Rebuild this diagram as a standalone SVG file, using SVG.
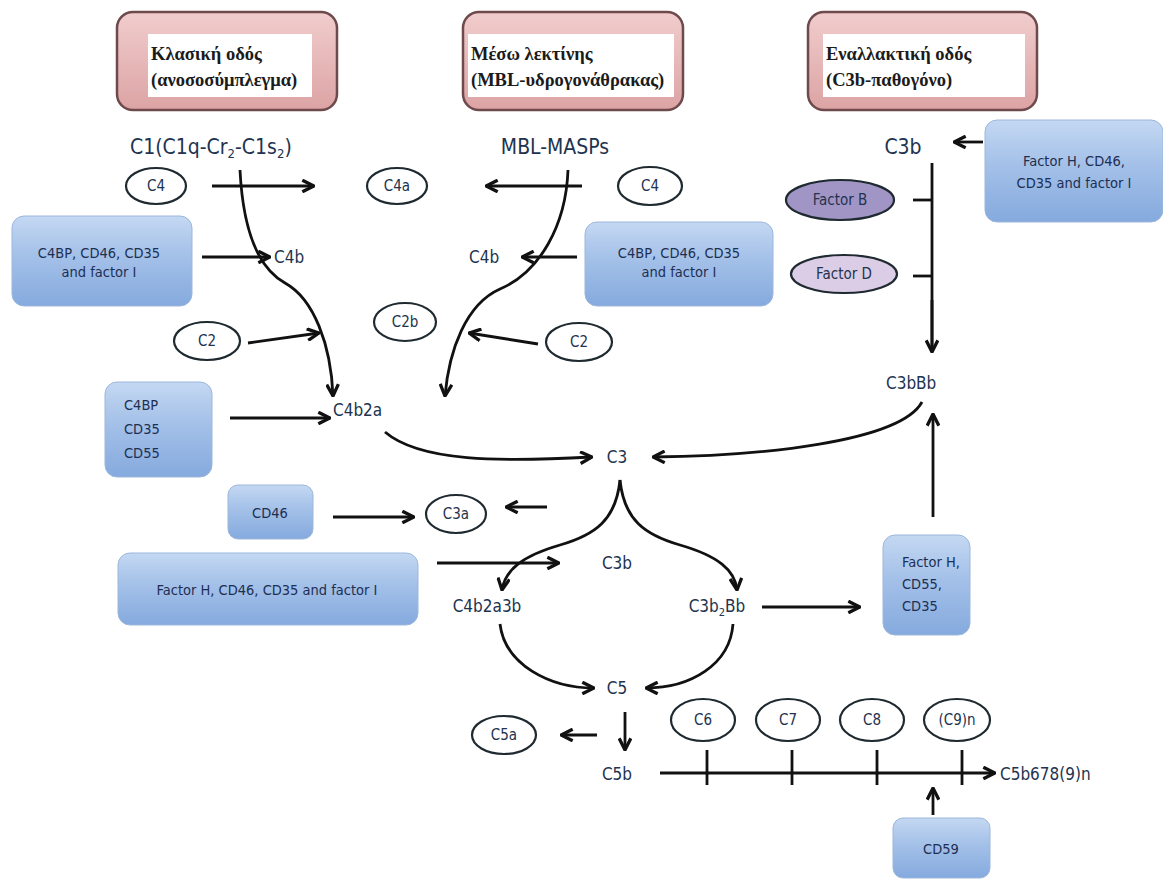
<svg xmlns="http://www.w3.org/2000/svg" width="1163" height="882" viewBox="0 0 1163 882">
<defs>
<linearGradient id="gBlue" x1="0" y1="0" x2="0" y2="1">
<stop offset="0" stop-color="#c4d8f2"/>
<stop offset="0.45" stop-color="#a3c0e8"/>
<stop offset="1" stop-color="#85aade"/>
</linearGradient>
<linearGradient id="gPink" x1="0" y1="0" x2="0" y2="1">
<stop offset="0" stop-color="#f1cdcd"/>
<stop offset="1" stop-color="#dca3a4"/>
</linearGradient>
<marker id="ah" viewBox="0 0 12 12" refX="11" refY="6" markerWidth="14" markerHeight="14" markerUnits="userSpaceOnUse" orient="auto">
<path d="M1,1 L11,6 L1,11" fill="none" stroke="#111" stroke-width="2.8" stroke-linejoin="miter"/>
</marker>
</defs>
<style>
.hdr{fill:url(#gPink);stroke:#6e4a4c;stroke-width:2.5}
.inner{fill:#ffffff;stroke:none}
.htxt{font-family:"Liberation Serif",serif;font-weight:bold;font-size:18.5px;fill:#1b1b1b}
.blue{fill:url(#gBlue);stroke:#9cb7dc;stroke-width:1}
.btxt{font-family:"DejaVu Sans Condensed","DejaVu Sans",sans-serif;font-size:14.5px;fill:#1d2f52}
.lbl{font-family:"DejaVu Sans Condensed","DejaVu Sans",sans-serif;font-size:17px;fill:#22334f}
.big{font-family:"DejaVu Sans Condensed","DejaVu Sans",sans-serif;font-size:21px;fill:#22334f}
.ell{fill:#ffffff;stroke:#1e2a30;stroke-width:2.2}
.etxt{font-family:"DejaVu Sans Condensed","DejaVu Sans",sans-serif;font-size:15px;fill:#22334f}
.ln{fill:none;stroke:#111;stroke-width:2.8}
.ar{fill:none;stroke:#111;stroke-width:2.8;marker-end:url(#ah)}
</style>
<rect width="1163" height="882" fill="#ffffff"/>

<g id="hdr-classic">
<rect class="hdr" x="117" y="12" width="220" height="98" rx="16"/>
<rect class="inner" x="148" y="34" width="164" height="63"/>
<text class="htxt" x="151" y="60">Κλασική οδός</text>
<text class="htxt" x="151" y="86">(ανοσοσύμπλεγμα)</text>
</g>
<g id="hdr-lectin">
<rect class="hdr" x="463" y="12" width="220" height="98" rx="16"/>
<rect class="inner" x="468" y="34" width="206" height="63"/>
<text class="htxt" x="471" y="60">Μέσω λεκτίνης</text>
<text class="htxt" x="471" y="86">(MBL-υδρογονάθρακας)</text>
</g>
<g id="hdr-alt">
<rect class="hdr" x="808" y="12" width="229" height="98" rx="16"/>
<rect class="inner" x="823" y="34" width="202" height="63"/>
<text class="htxt" x="826" y="60">Εναλλακτική οδός</text>
<text class="htxt" x="826" y="86">(C3b-παθογόνο)</text>
</g>

<g id="lbl-c1"><text class="big" x="130" y="154">C1(C1q-Cr<tspan font-size="13" dy="4">2</tspan><tspan dy="-4">-C1s</tspan><tspan font-size="13" dy="4">2</tspan><tspan dy="-4">)</tspan></text></g>
<g id="lbl-mbl"><text class="big" x="555" y="154" text-anchor="middle">MBL-MASPs</text></g>
<g id="lbl-c3b-top"><text class="big" x="903" y="154" text-anchor="middle">C3b</text></g>

<g id="e-c4-left"><ellipse class="ell" cx="156" cy="186" rx="30" ry="18"/><text class="etxt" x="156" y="191" text-anchor="middle">C4</text></g>
<g id="e-c4a"><ellipse class="ell" cx="397" cy="186" rx="30" ry="18"/><text class="etxt" x="397" y="191" text-anchor="middle">C4a</text></g>
<g id="e-c4-right"><ellipse class="ell" cx="650" cy="186" rx="32" ry="19"/><text class="etxt" x="650" y="191" text-anchor="middle">C4</text></g>
<g id="e-factorB"><ellipse cx="840" cy="200" rx="54" ry="20" fill="#a195c6" stroke="#1e2a30" stroke-width="2.2"/><text class="etxt" x="840" y="205" text-anchor="middle">Factor B</text></g>
<g id="e-factorD"><ellipse cx="844" cy="274" rx="53" ry="19" fill="#dccde6" stroke="#1e2a30" stroke-width="2.2"/><text class="etxt" x="844" y="279" text-anchor="middle">Factor D</text></g>

<g id="box-fh-top"><rect class="blue" x="985" y="120" width="178" height="102" rx="12"/><text class="btxt" x="1074" y="166" text-anchor="middle">Factor H, CD46,</text><text class="btxt" x="1074" y="188" text-anchor="middle">CD35 and factor I</text></g>

<g id="box-c4bp-left"><rect class="blue" x="12" y="216" width="180" height="90" rx="12"/><text class="btxt" x="99" y="258" text-anchor="middle">C4BP, CD46, CD35</text><text class="btxt" x="99" y="277" text-anchor="middle">and factor I</text></g>
<g id="lbl-c4b-left"><text class="lbl" x="274" y="263">C4b</text></g>
<g id="lbl-c4b-right"><text class="lbl" x="469" y="263">C4b</text></g>
<g id="box-c4bp-right"><rect class="blue" x="585" y="222" width="188" height="84" rx="12"/><text class="btxt" x="679" y="258" text-anchor="middle">C4BP, CD46, CD35</text><text class="btxt" x="679" y="277" text-anchor="middle">and factor I</text></g>

<g id="e-c2-left"><ellipse class="ell" cx="207" cy="341" rx="33" ry="19"/><text class="etxt" x="207" y="346" text-anchor="middle">C2</text></g>
<g id="e-c2b"><ellipse class="ell" cx="405" cy="322" rx="31" ry="19"/><text class="etxt" x="405" y="327" text-anchor="middle">C2b</text></g>
<g id="e-c2-right"><ellipse class="ell" cx="579" cy="342" rx="33" ry="19"/><text class="etxt" x="579" y="347" text-anchor="middle">C2</text></g>

<g id="box-c4bp-cd35-cd55"><rect class="blue" x="105" y="382" width="107" height="95" rx="12"/><text class="btxt" x="124" y="410">C4BP</text><text class="btxt" x="124" y="434">CD35</text><text class="btxt" x="124" y="458">CD55</text></g>
<g id="lbl-c4b2a"><text class="lbl" x="333" y="416">C4b2a</text></g>
<g id="lbl-c3bbb"><text class="lbl" x="886" y="389">C3bBb</text></g>
<g id="lbl-c3"><text class="lbl" x="617" y="463" text-anchor="middle">C3</text></g>

<g id="box-cd46"><rect class="blue" x="228" y="485" width="85" height="54" rx="10"/><text class="btxt" x="270" y="518" text-anchor="middle">CD46</text></g>
<g id="e-c3a"><ellipse class="ell" cx="456" cy="514" rx="30" ry="19"/><text class="etxt" x="456" y="519" text-anchor="middle">C3a</text></g>

<g id="box-fh-left"><rect class="blue" x="118" y="553" width="300" height="72" rx="12"/><text class="btxt" x="267" y="595" text-anchor="middle">Factor H, CD46, CD35 and factor I</text></g>
<g id="lbl-c3b-mid"><text class="lbl" x="617" y="569" text-anchor="middle">C3b</text></g>
<g id="lbl-c4b2a3b"><text class="lbl" x="487" y="612" text-anchor="middle">C4b2a3b</text></g>
<g id="lbl-c3b2bb"><text class="lbl" x="717" y="612" text-anchor="middle">C3b<tspan font-size="11" dy="4">2</tspan><tspan dy="-4">Bb</tspan></text></g>
<g id="box-fh-cd55"><rect class="blue" x="883" y="535" width="87" height="100" rx="12"/><text class="btxt" x="902" y="567">Factor H,</text><text class="btxt" x="902" y="589">CD55,</text><text class="btxt" x="902" y="611">CD35</text></g>

<g id="lbl-c5"><text class="lbl" x="617" y="694" text-anchor="middle">C5</text></g>
<g id="e-c5a"><ellipse class="ell" cx="504" cy="735" rx="32" ry="19"/><text class="etxt" x="504" y="740" text-anchor="middle">C5a</text></g>
<g id="lbl-c5b"><text class="lbl" x="617" y="780" text-anchor="middle">C5b</text></g>
<g id="e-c6"><ellipse class="ell" cx="703" cy="720" rx="32" ry="21"/><text class="etxt" x="703" y="725" text-anchor="middle">C6</text></g>
<g id="e-c7"><ellipse class="ell" cx="788" cy="720" rx="32" ry="21"/><text class="etxt" x="788" y="725" text-anchor="middle">C7</text></g>
<g id="e-c8"><ellipse class="ell" cx="872" cy="720" rx="32" ry="21"/><text class="etxt" x="872" y="725" text-anchor="middle">C8</text></g>
<g id="e-c9n"><ellipse class="ell" cx="957" cy="720" rx="33" ry="21"/><text class="etxt" x="957" y="725" text-anchor="middle">(C9)n</text></g>
<g id="lbl-mac"><text class="lbl" x="1000" y="780">C5b678(9)n</text></g>
<g id="box-cd59"><rect class="blue" x="893" y="818" width="97" height="60" rx="10"/><text class="btxt" x="941" y="854" text-anchor="middle">CD59</text></g>

<g id="connectors">
<path class="ar" d="M983,142 L954,142"/>
<path class="ar" d="M212,186 L314,186"/>
<path class="ar" d="M582,186 L486,186"/>
<path class="ar" d="M240,170 C243,230 258,268 285,283 C314,299 331,345 333,396"/>
<path class="ar" d="M568,170 C566,225 540,272 500,289 C466,304 449,350 445,396"/>
<path class="ar" d="M202,257 L270,257"/>
<path class="ar" d="M577,257 L522,257"/>
<path class="ar" d="M248,343 L319,333"/>
<path class="ar" d="M538,344 L469,333"/>
<path class="ar" d="M230,418 L330,418"/>
<path class="ln" d="M932,163 L932,350"/>
<path class="ar" d="M932,300 L932,352"/>
<path class="ln" d="M913,200 L932,200"/>
<path class="ln" d="M913,276 L932,276"/>
<path class="ar" d="M385,432 C420,462 500,462 592,457"/>
<path class="ar" d="M922,402 C900,442 760,456 653,457"/>
<path class="ar" d="M933,517 L933,414"/>
<path class="ar" d="M333,517 L414,517"/>
<path class="ar" d="M547,507 L506,507"/>
<path class="ar" d="M620,480 C616,520 595,535 560,545 C522,556 505,570 502,590"/>
<path class="ar" d="M620,480 C624,520 645,535 680,545 C718,556 735,570 737,590"/>
<path class="ar" d="M437,563 L559,563"/>
<path class="ar" d="M762,607 L860,607"/>
<path class="ar" d="M500,624 C505,665 550,688 594,688"/>
<path class="ar" d="M733,624 C730,665 690,688 646,688"/>
<path class="ar" d="M625,712 L625,750"/>
<path class="ar" d="M597,735 L561,735"/>
<path class="ar" d="M660,773 L995,773"/>
<path class="ln" d="M707,750 L707,785"/>
<path class="ln" d="M792,750 L792,785"/>
<path class="ln" d="M877,750 L877,785"/>
<path class="ln" d="M962,750 L962,785"/>
<path class="ar" d="M933,815 L933,788"/>
</g>
</svg>
